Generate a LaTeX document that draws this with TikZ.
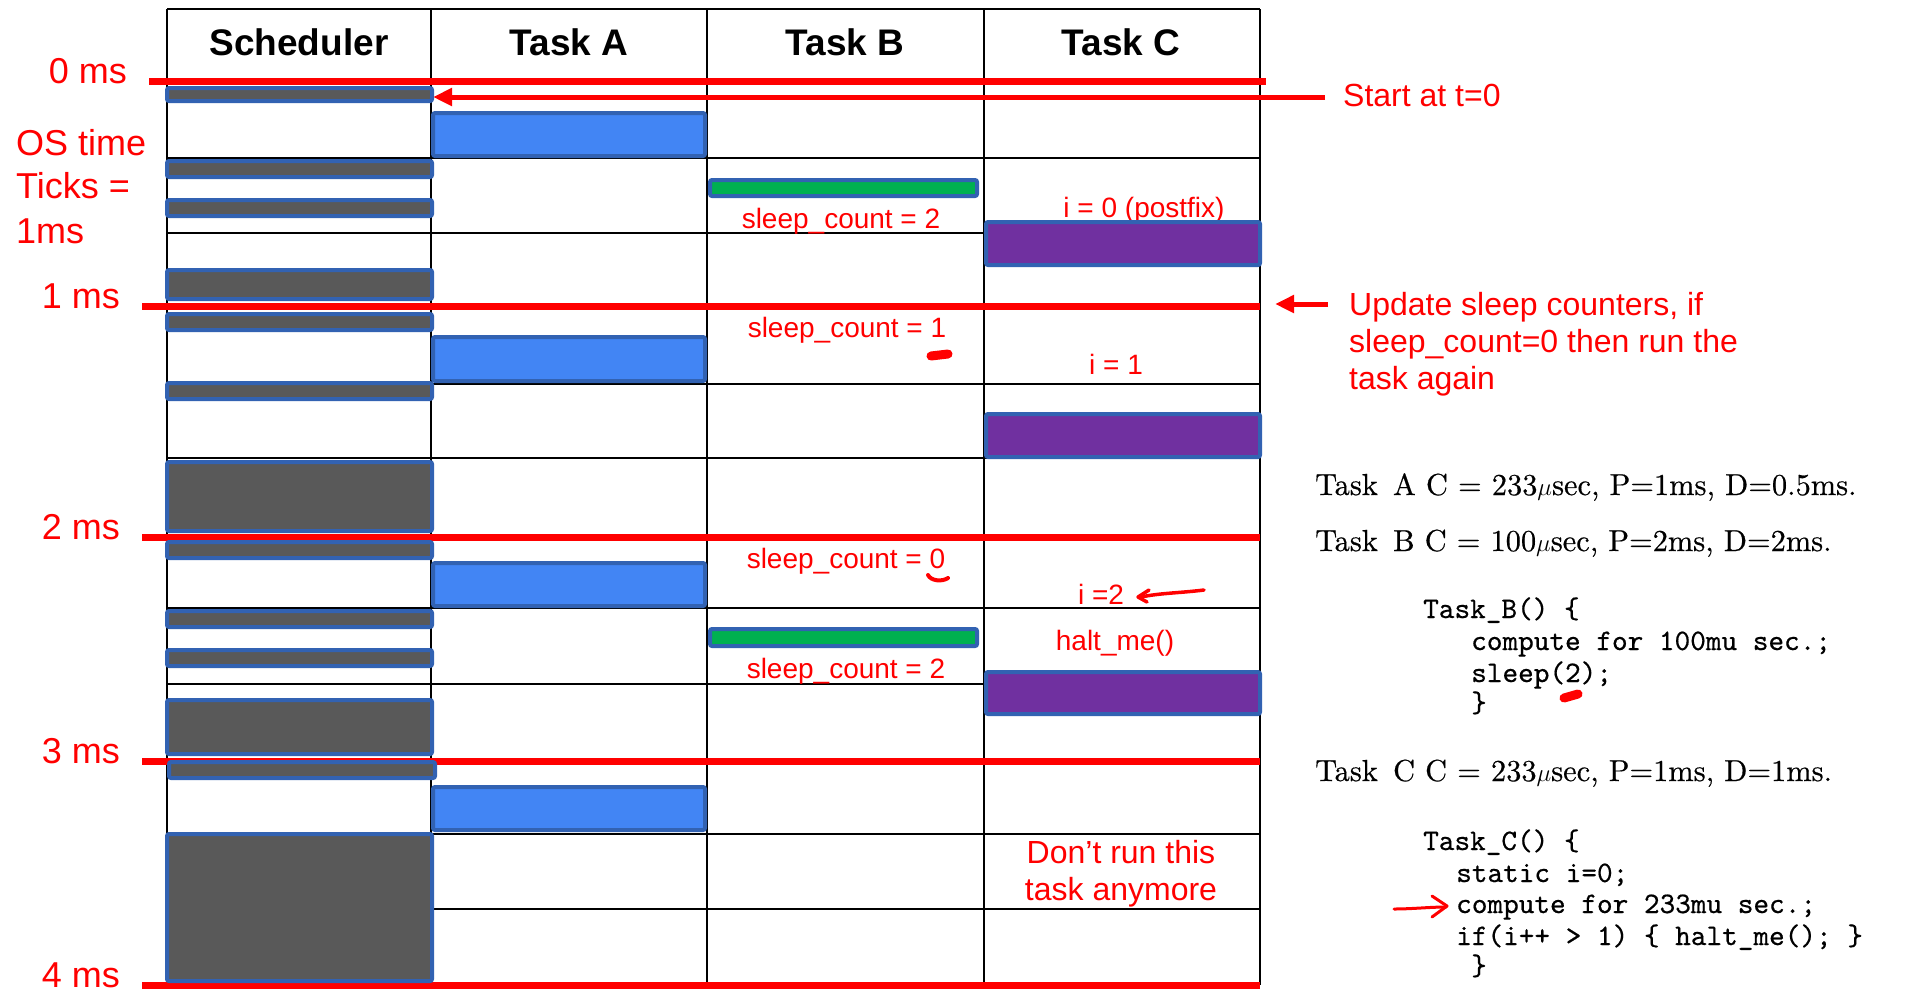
\documentclass[tikz,border=0pt]{standalone}
\usepackage{fontspec}
\newfontfamily\arialf{Liberation Sans}
\newfontfamily\cmrf{lmroman10-regular.otf}[FakeBold=0.5]
\newfontfamily\cmttf{lmmono10-regular.otf}[FakeBold=0.5]
\usetikzlibrary{arrows.meta}
\definecolor{redc}{HTML}{FF0000}
\definecolor{bdr}{HTML}{3262B2}
\definecolor{dgray}{HTML}{595959}
\definecolor{bluef}{HTML}{4285F4}
\definecolor{greenf}{HTML}{00B050}
\definecolor{purplef}{HTML}{7030A0}
\begin{document}
\begin{tikzpicture}[x=1pt,y=-1pt,
  gridline/.style={line width=2.6pt, black},
  msline/.style={line width=7pt, redc},
  box/.style={line width=4pt, draw=bdr, rounded corners=2pt},
  schedbox/.style={box, fill=dgray},
  abox/.style={box, fill=bluef},
  bbox/.style={box, fill=greenf},
  cbox/.style={box, fill=purplef},
  hdr/.style={inner sep=0pt, font=\arialf\bfseries\fontsize{37}{44}\selectfont},
  mslbl/.style={inner sep=0pt, text=redc, font=\arialf\fontsize{36}{44}\selectfont},
  note/.style={inner sep=0pt, text=redc, font=\arialf\fontsize{32}{37}\selectfont},
  cell/.style={inner sep=0pt, text=redc, font=\arialf\fontsize{28}{34}\selectfont},
  texl/.style={inner sep=0pt, font=\cmrf\fontsize{30.4}{36}\selectfont},
  code/.style={inner sep=0pt, font=\cmttf\fontsize{29.8}{34}\selectfont},
  redarrow/.style={redc, line width=5pt, -{Triangle[length=19pt,width=17pt]}},
  hand/.style={redc, line cap=round, line join=round}
]
\useasboundingbox (0,0) rectangle (1911,994);
\fill[white] (0,0) rectangle (1911,994);

% grid
\draw[gridline] (167,9) -- (1260,9);
\foreach \xx in {167,431,707,984,1260} \draw[gridline] (\xx,9) -- (\xx,985);
\foreach \yy in {81,158,233,384,458,608,684,834,909} \draw[gridline] (167,\yy) -- (1260,\yy);

% ms lines
\draw[msline] (149,81) -- (1266,81);
\draw[msline] (142,306) -- (1260,306);
\draw[msline] (142,537) -- (1260,537);
\draw[msline] (142,761) -- (1260,761);
\draw[msline] (142,985) -- (1260,985);

% headers
\node[hdr, anchor=base] (hS) at (299,55) {Scheduler};
\node[hdr, anchor=base] (hA) at (569,55) {Task A};
\node[hdr, anchor=base] (hB) at (845,55) {Task B};
\node[hdr, anchor=base] (hC) at (1121,55) {Task C};

% left labels
\node[mslbl, anchor=base east] (m0) at (127,83) {0 ms};
\node[mslbl, anchor=base east] (m1) at (120,308) {1 ms};
\node[mslbl, anchor=base east] (m2) at (120,539) {2 ms};
\node[mslbl, anchor=base east] (m3) at (120,763) {3 ms};
\node[mslbl, anchor=base east] (m4) at (120,987) {4 ms};
\node[mslbl, anchor=base west] (os1) at (16,155) {OS time};
\node[mslbl, anchor=base west] (os2) at (16,198) {Ticks =};
\node[mslbl, anchor=base west] (os3) at (16,243) {1ms};

% cell labels
\node[cell, anchor=base] (sc1) at (841,228) {sleep\_count = 2};
\node[cell, anchor=base] (ic0) at (1144,217) {i = 0 (postfix)};
\node[cell, anchor=base] (sc2) at (847,337) {sleep\_count = 1};
\node[cell, anchor=base] (ic1) at (1116,374) {i = 1};
\node[cell, anchor=base] (sc3) at (846,568) {sleep\_count = 0};
\node[cell, anchor=base] (ic2) at (1101,604) {i =2};
\node[cell, anchor=base] (halt) at (1115,650) {halt\_me()};
\node[cell, anchor=base] (sc4) at (846,678) {sleep\_count = 2};
\node[note, anchor=base] (dr1) at (1121,863) {Don’t run this};
\node[note, anchor=base] (dr2) at (1121,900) {task anymore};

% boxes: scheduler
\path[schedbox] (167,88) rectangle (432,101);
\path[schedbox] (167,161) rectangle (432,177);
\path[schedbox] (167,200) rectangle (432,216);
\path[schedbox] (167,270) rectangle (432,299);
\path[schedbox] (167,314) rectangle (432,330);
\path[schedbox] (167,383) rectangle (432,399);
\path[schedbox] (167,462) rectangle (432,531);
\path[schedbox] (167,542) rectangle (432,558);
\path[schedbox] (167,611) rectangle (432,627);
\path[schedbox] (167,650) rectangle (432,666);
\path[schedbox] (167,700) rectangle (432,754);
\path[schedbox] (169,762) rectangle (435,778);
\path[schedbox] (167,834) rectangle (432,981);
% task A
\path[abox] (433,113) rectangle (705,156);
\path[abox] (433,337) rectangle (705,381);
\path[abox] (433,563) rectangle (705,606);
\path[abox] (433,787) rectangle (705,830);
% task B
\path[bbox] (710,180) rectangle (977,196);
\path[bbox] (710,629) rectangle (977,646);
% task C
\path[cbox] (986,222) rectangle (1260,265);
\path[cbox] (986,414) rectangle (1260,457);
\path[cbox] (986,672) rectangle (1260,714);

% right notes
\node[note, anchor=base west] (st) at (1343,106) {Start at t=0};
\node[note, anchor=base west] (up1) at (1349,315) {Update sleep counters, if};
\node[note, anchor=base west] (up2) at (1349,352) {sleep\_count=0 then run the};
\node[note, anchor=base west] (up3) at (1349,389) {task again};

\coordinate (stTail) at (1325,97);
\coordinate (stTip) at (433,97);
\draw[redarrow] (stTail) -- (stTip);
\coordinate (upTail) at (1328,304);
\coordinate (upTip) at (1275,304);
\draw[redarrow] (upTail) -- (upTip);

% LaTeX text
\node[texl, anchor=base west] (tA) at (1315,495) {Task\hspace{0.5em}A C = 233$\mu$sec, P=1ms, D=0.5ms.};
\node[texl, anchor=base west] (tB) at (1315,551) {Task\hspace{0.5em}B C = 100$\mu$sec, P=2ms, D=2ms.};
\node[texl, anchor=base west] (tC) at (1315,781) {Task\hspace{0.5em}C C = 233$\mu$sec, P=1ms, D=1ms.};

\node[code, anchor=base west] (b1) at (1423,618) {Task\_B() \{};
\node[code, anchor=base west] (b2) at (1471,650) {compute for 100mu sec.;};
\node[code, anchor=base west] (b3) at (1471,682) {sleep(2);};
\node[code, anchor=base west] (b4) at (1471,712) {\}};
\node[code, anchor=base west] (c1) at (1423,850) {Task\_C() \{};
\node[code, anchor=base west] (c2) at (1456,882) {static i=0;};
\node[code, anchor=base west] (c3) at (1456,913) {compute for 233mu sec.;};
\node[code, anchor=base west] (c4) at (1456,945) {if(i++ > 1) \{ halt\_me(); \}};
\node[code, anchor=base west] (c5) at (1471,975) {\}};

% hand-drawn marks
\draw[hand, line width=9pt] (931,356) -- (948,354);
\draw[hand, line width=4pt] (928,575) .. controls (931,581) and (942,582) .. (948,578);
\draw[hand, line width=3.5pt] (1204,590) .. controls (1180,593) and (1160,593) .. (1141,597);
\draw[hand, line width=3.5pt] (1149,590) -- (1138,597) -- (1147,602);
\draw[hand, line width=9pt] (1564,698) -- (1578,694);
\draw[hand, line width=3pt] (1394,909) .. controls (1412,909) and (1430,907) .. (1446,907);
\draw[hand, line width=3pt] (1432,896) -- (1447,906) -- (1432,917);
\end{tikzpicture}
\end{document}
